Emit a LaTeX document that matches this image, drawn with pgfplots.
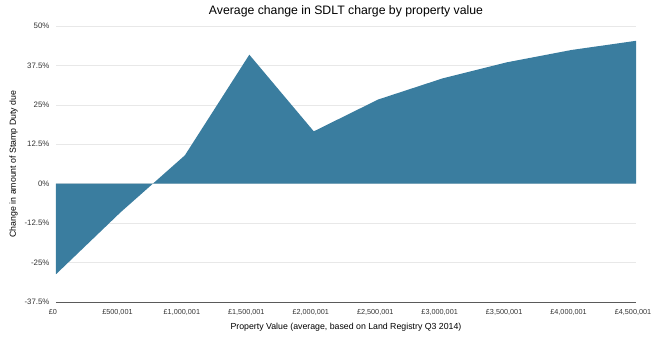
\documentclass[border=0pt]{standalone}
\usepackage{pgfplots}
\pgfplotsset{compat=1.18}
\usepackage{fontspec}
\setmainfont{Liberation Sans}
\definecolor{areablue}{RGB}{58,125,159}
\definecolor{gridgray}{RGB}{232,232,232}
\definecolor{axisgray}{RGB}{90,90,90}
\begin{document}
\begin{tikzpicture}
\begin{axis}[
  scale only axis,
  width=580bp, height=276bp,
  xmin=0, xmax=9,
  ymin=-37.5, ymax=50,
  axis x line*=bottom,
  axis y line*=left,
  x axis line style={draw=axisgray, thick, -},
  y axis line style={draw=none},
  xtick={0,...,9},
  xticklabels={{\pounds0},{\pounds500,001},{\pounds1,000,001},{\pounds1,500,001},{\pounds2,000,001},{\pounds2,500,001},{\pounds3,000,001},{\pounds3,500,001},{\pounds4,000,001},{\pounds4,500,001}},
  xticklabel style={font=\fontsize{7.3}{8}\selectfont, text=black!80, yshift=-4pt, xshift=-3bp},
  major tick length=0pt,
  ytick={-37.5,-25,-12.5,0,12.5,25,37.5,50},
  yticklabels={-37.5\%,-25\%,-12.5\%,0\%,12.5\%,25\%,37.5\%,50\%},
  yticklabel style={font=\fontsize{7.9}{9}\selectfont, text=black!80, xshift=-3bp},
  ymajorgrids,
  grid style={draw=gridgray, line width=0.6pt},
  title={Average change in SDLT charge by property value},
  title style={font=\fontsize{12.3}{14}\selectfont, yshift=-1pt},
  xlabel={Property Value (average, based on Land Registry Q3 2014)},
  xlabel style={font=\fontsize{8.8}{10}\selectfont, yshift=-1pt},
  ylabel={Change in amount of Stamp Duty due},
  ylabel style={font=\fontsize{8.8}{10}\selectfont, yshift=0pt},
]
\addplot[draw=none, fill=areablue] table {
x y
0 -28.7
1 -9.1
2 9.0
3 40.9
4 16.6
5 26.7
6 33.4
7 38.5
8 42.4
9 45.3
} \closedcycle;
\end{axis}
\draw[axisgray, thick] (current axis.south west) -- (current axis.south east);
\pgfresetboundingbox
\path ([xshift=-56bp,yshift=-35bp]current axis.south west) rectangle ([xshift=24bp,yshift=26bp]current axis.north east);
\end{tikzpicture}
\end{document}
